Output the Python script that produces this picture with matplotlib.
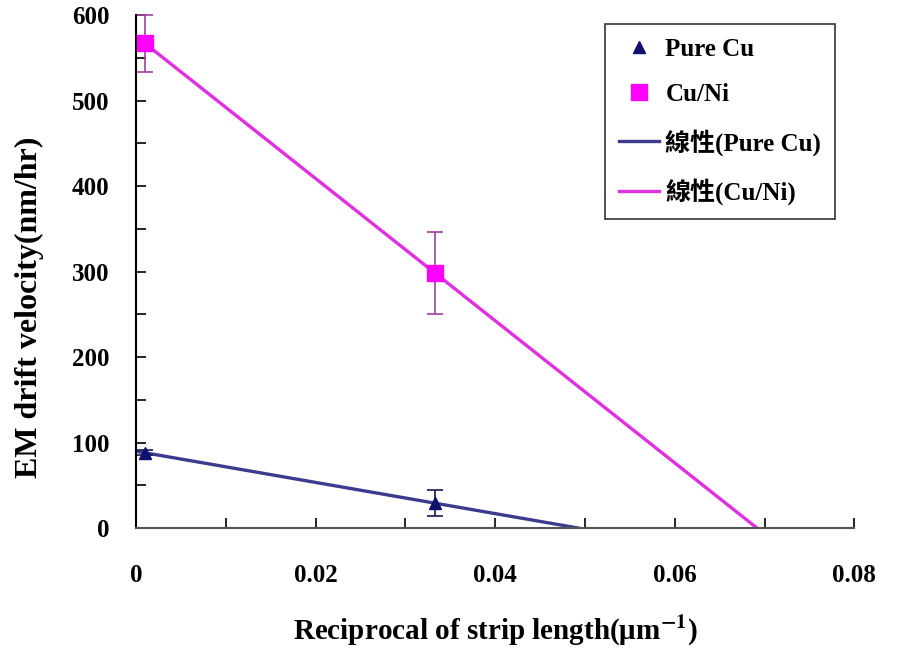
import matplotlib
matplotlib.use("Agg")
import matplotlib.pyplot as plt
import numpy as np
from matplotlib.ticker import MultipleLocator

plt.rcParams['font.family'] = ['Liberation Serif', 'Noto Sans CJK TC', 'DejaVu Sans']
plt.rcParams['font.weight'] = 'bold'
plt.rcParams['mathtext.fontset'] = 'stix'

# Data
cu_x = [0.001, 1/30]
cu_y = [88, 29]
cu_err = [3, 15]
cuni_x = [0.001, 1/30]
cuni_y = [567, 298]
cuni_err = [33, 48]

labels = ['Pure Cu', 'Cu/Ni', '線性(Pure Cu)', '線性(Cu/Ni)']

fig = plt.figure(figsize=(8.98, 6.5), dpi=100)
ax = fig.add_axes([0.1514, 0.1877, 0.80, 0.789])

def fitline(x, y):
    m, b = np.polyfit(x, y, 1)
    xz = -b / m
    xs = np.array([0, xz])
    return xs, m * xs + b

fx, fy = fitline(cu_x, cu_y)
gx, gy = fitline(cuni_x, cuni_y)

l1, = ax.plot(fx, fy, color='#3c3c8e', lw=2.4, zorder=2)
l2, = ax.plot(gx, gy, color='#e030e0', lw=2.4, zorder=2)

e1 = ax.errorbar(cu_x, cu_y, yerr=cu_err, fmt='none', ecolor='#1a1a50', elinewidth=1.2, capsize=6, capthick=1.2, zorder=3)
e2 = ax.errorbar(cuni_x, cuni_y, yerr=cuni_err, fmt='none', ecolor='#a040a0', elinewidth=1.2, capsize=6, capthick=1.2, zorder=3)
for e in (e1, e2):
    for art in list(e.lines[1]) + list(e.lines[2]):
        art.set_clip_on(False)
m1, = ax.plot(cu_x, cu_y, ls='none', marker='^', ms=9, color='#10106e', zorder=4)
m2, = ax.plot(cuni_x, cuni_y, ls='none', marker='s', ms=11, color='#ff00ff', zorder=4)

ax.set_xlim(0, 0.08)
ax.set_ylim(0, 600)
ax.xaxis.set_minor_locator(MultipleLocator(0.01))
ax.yaxis.set_major_locator(MultipleLocator(100))
ax.yaxis.set_minor_locator(MultipleLocator(50))
ax.set_xticks([0, 0.02, 0.04, 0.06, 0.08])
ax.set_xticklabels(['0', '0.02', '0.04', '0.06', '0.08'])
ax.tick_params(which='both', direction='in', length=7, width=1.2, labelsize=18)
ax.tick_params(axis='x', pad=26)
ax.tick_params(axis='y', pad=19)
for lab in ax.get_xticklabels() + ax.get_yticklabels():
    lab.set_fontweight('bold')

for s in ['top', 'right']:
    ax.spines[s].set_visible(False)
for s in ['left', 'bottom']:
    ax.spines[s].set_linewidth(1.5)
ax.spines['bottom'].set_color('#555555')

ax.set_ylabel('EM drift velocity(nm/hr)', fontsize=23, fontweight='bold')
ax.yaxis.set_label_coords(-0.128, 0.43)
ax.set_xlabel(r'Reciprocal of strip length(μm$^{\mathbf{-1}}$)', fontsize=21, fontweight='bold', labelpad=18)

leg = ax.legend([m1, m2, l1, l2], labels, loc='upper right', bbox_to_anchor=(0.973, 0.983),
                frameon=True, fancybox=False, edgecolor='black',
                handlelength=1.6, labelspacing=0.9, borderpad=0.55, handletextpad=0.25,
                borderaxespad=0.0, prop={'weight': 'bold', 'size': 18})
leg.get_frame().set_linewidth(1.2)

fig.savefig('out.png', dpi=100)
